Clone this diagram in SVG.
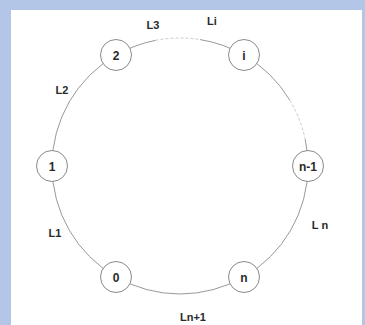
<svg xmlns="http://www.w3.org/2000/svg" width="365" height="325" viewBox="0 0 365 325">
  <style>
    .arc { fill: none; stroke: #999999; stroke-width: 1; }
    .faint { fill: none; stroke: #cccccc; stroke-width: 1; stroke-dasharray: 3 2; }
    .node circle { fill: #ffffff; stroke: #8a8a8a; stroke-width: 1; }
    .node text { font-family: "Liberation Sans", Arial, sans-serif; font-size: 12px; font-weight: bold; fill: #2a2a2a; text-anchor: middle; dominant-baseline: central; }
    .lbl { font-family: "Liberation Sans", Arial, sans-serif; font-size: 11px; font-weight: bold; fill: #2a2a2a; text-anchor: middle; dominant-baseline: central; }
  </style>

  <!-- page -->
  <rect x="0" y="0" width="365" height="325" fill="#b4c6e7"/>
  <rect x="11" y="10" width="351" height="315" fill="#ffffff"/>

  <!-- ring links, radius 128 about (180,166) -->
  <g id="connectors">
    <path class="arc" d="M116 55.15 A128 128 0 0 1 155.58 40.35"/>
    <path class="faint" d="M155.58 40.35 A128 128 0 0 1 200.02 39.57"/>
    <path class="arc" d="M200.02 39.57 A128 128 0 0 1 244 55.15"/>
    <path class="arc" d="M244 55.15 A128 128 0 0 1 289.72 100.08"/>
    <path class="faint" d="M289.72 100.08 A128 128 0 0 1 305.2 139.39"/>
    <path class="arc" d="M305.2 139.39 A128 128 0 0 1 308 166"/>
    <path class="arc" d="M308 166 A128 128 0 0 1 244 276.85"/>
    <path class="arc" d="M244 276.85 A128 128 0 0 1 116 276.85"/>
    <path class="arc" d="M116 276.85 A128 128 0 0 1 52 166"/>
    <path class="arc" d="M52 166 A128 128 0 0 1 116 55.15"/>
  </g>

  <!-- link labels -->
  <g id="labels">
    <text class="lbl" x="153" y="25">L3</text>
    <text class="lbl" x="212" y="21">Li</text>
    <text class="lbl" x="62" y="90">L2</text>
    <text class="lbl" x="55" y="233">L1</text>
    <text class="lbl" x="320" y="225">L n</text>
    <text class="lbl" x="193" y="317">Ln+1</text>
  </g>

  <g id="node-2" class="node"><circle cx="116" cy="55" r="15.5"/><text x="116" y="56">2</text></g>
  <g id="node-i" class="node"><circle cx="244" cy="55" r="15.5"/><text x="244" y="56">i</text></g>
  <g id="node-1" class="node"><circle cx="52" cy="166" r="15.5"/><text x="52" y="167">1</text></g>
  <g id="node-n-1" class="node"><circle cx="308" cy="166" r="15.5"/><text x="308" y="167">n-1</text></g>
  <g id="node-0" class="node"><circle cx="116" cy="277" r="15.5"/><text x="116" y="278">0</text></g>
  <g id="node-n" class="node"><circle cx="244" cy="277" r="15.5"/><text x="244" y="278">n</text></g>
</svg>
